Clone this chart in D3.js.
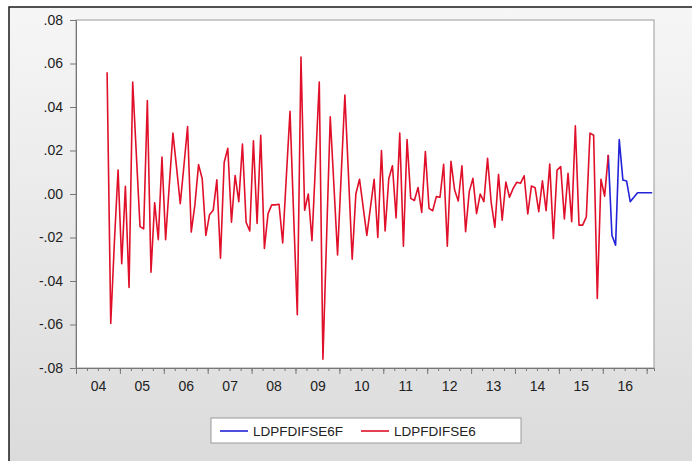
<html>
<head>
<meta charset="utf-8">
<style>
  body { margin: 0; background: #fff; }
  text { font-family: "Liberation Sans", Arial, sans-serif; }
</style>
</head>
<body>
<svg id="svg" width="692" height="461"></svg>
<script src="https://cdn.jsdelivr.net/npm/d3@7"></script>
<script>

// monthly observations, month index 0 = 2004M01
var firstYear = 2004;
var nMonths = 158;

var actualStart = 8;   // 2004M09
var actual = [
  0.056, -0.0595, -0.022, 0.011, -0.032, 0.0035, -0.043, 0.0515, 0.018, -0.015,
  -0.016, 0.043, -0.036, -0.004, -0.021, 0.017, -0.021, 0.004, 0.028, 0.012,
  -0.0045, 0.013, 0.031, -0.0175, -0.005, 0.0135, 0.007, -0.019, -0.0095, -0.0075,
  0.0065, -0.0295, 0.0145, 0.021, -0.013, 0.0085, -0.0035, 0.023, -0.013, -0.017,
  0.0245, -0.0135, 0.027, -0.025, -0.009, -0.005, -0.005, -0.0047, -0.0225, 0.008,
  0.038, -0.01, -0.0555, 0.063, -0.0075, 0.000, -0.0215, 0.015, 0.0515, -0.076,
  -0.02, 0.0355, 0.004, -0.028, 0.009, 0.0455, 0.008, -0.030, 0.000, 0.0068,
  -0.006, -0.019, -0.006, 0.0068, -0.020, 0.020, -0.017, 0.007, 0.013, -0.011,
  0.028, -0.024, 0.025, -0.002, -0.003, 0.003, -0.0085, 0.0195, -0.0066, -0.0077,
  -0.0012, -0.0015, 0.0136, -0.024, 0.015, 0.0018, -0.0032, 0.013, -0.0173, 0.0011,
  0.0072, -0.009, 0.000, -0.0035, 0.0164, -0.004, -0.0153, 0.009, -0.012, 0.0055,
  -0.0015, 0.0026, 0.0054, 0.0049, 0.0084, -0.0092, 0.0037, 0.0029, -0.0081, 0.0061,
  -0.0077, 0.0138, -0.0204, 0.011, 0.0126, -0.0115, 0.0095, -0.0127, 0.0313, -0.0143,
  -0.0143, -0.0105, 0.028, 0.027, -0.048, 0.0068, -0.001, 0.018
];

var forecastStart = 145;
var forecast = [
  0.018, -0.019, -0.0235, 0.025, 0.0064, 0.006, -0.0035, -0.0015, 0.0006, 0.0006,
  0.0006, 0.0006, 0.0006
];

var yTicks = [-0.08, -0.06, -0.04, -0.02, 0.00, 0.02, 0.04, 0.06, 0.08];
var yearLabels = ["04", "05", "06", "07", "08", "09", "10", "11", "12", "13", "14", "15", "16"];
var seriesNames = ["LDPFDIFSE6F", "LDPFDIFSE6"];
var seriesColors = ["#2323d8", "#e0102a"];

var svg = d3.select("#svg");

// background panel
var defs = svg.append("defs");
var grad = defs.append("linearGradient").attr("id", "bg")
  .attr("x1", 0).attr("y1", 0).attr("x2", 0).attr("y2", 1);
grad.append("stop").attr("offset", "0%").attr("stop-color", "#f6f6f6");
grad.append("stop").attr("offset", "100%").attr("stop-color", "#dadada");

svg.append("rect").attr("x", 0).attr("y", 0).attr("width", 692).attr("height", 461)
  .style("fill", "#fff");
svg.append("rect").attr("x", 9).attr("y", 7).attr("width", 700).attr("height", 470)
  .style("fill", "url(#bg)").style("stroke", "#1a1a1a").style("stroke-width", 1.5);

var L = 76, R = 654, T = 20, B = 368;

var x = d3.scaleLinear().domain([0, nMonths]).range([L, R]);
var y = d3.scaleLinear().domain([-0.08, 0.08]).range([B, T]);

svg.append("rect").attr("x", L).attr("y", T).attr("width", R - L).attr("height", B - T)
  .style("fill", "#fff").style("stroke", "#9a9a9a").style("stroke-width", 1);

// y axis, labels like ".08" and "-.02"
var fmt = v => d3.format(".2f")(v).replace("\u2212", "-").replace(/^(-?)0\./, "$1.");
svg.append("g").attr("transform", "translate(" + L + ",0)")
  .call(d3.axisLeft(y).tickValues(yTicks).tickFormat(fmt).tickSize(6).tickPadding(7))
  .call(g => g.selectAll("path, line").style("stroke", "#777"))
  .call(g => g.selectAll("text").style("font-size", "14px").style("fill", "#222")
    .style("font-family", "'Liberation Sans', Arial, sans-serif"));

// x axis: quarterly minor ticks, yearly major ticks, labels mid-year
var quarters = d3.range(0, nMonths + 1, 3);
var years = d3.range(0, nMonths + 1, 12);
svg.append("g").attr("transform", "translate(0," + B + ")")
  .call(d3.axisBottom(x).tickValues(quarters).tickFormat("").tickSize(3))
  .call(g => g.selectAll("path, line").style("stroke", "#777"));
svg.append("g").attr("transform", "translate(0," + B + ")")
  .call(d3.axisBottom(x).tickValues(years).tickFormat("").tickSize(6))
  .call(g => g.select("path").remove())
  .call(g => g.selectAll("line").style("stroke", "#777"));
svg.append("g").attr("transform", "translate(0," + B + ")")
  .call(d3.axisBottom(x).tickValues(yearLabels.map((d, i) => i * 12 + 6))
    .tickFormat((d, i) => yearLabels[i]).tickSize(0).tickPadding(13))
  .call(g => g.select("path").remove())
  .call(g => g.selectAll("text").style("font-size", "14px").style("fill", "#222")
    .style("font-family", "'Liberation Sans', Arial, sans-serif"));

// series
var line = d3.line().x(d => x(d.m + 0.5)).y(d => y(d.v));
var fData = forecast.map((v, i) => ({m: forecastStart + i, v: v}));
var aData = actual.map((v, i) => ({m: actualStart + i, v: v}));

svg.append("path").datum(fData).attr("d", line)
  .style("fill", "none").style("stroke", seriesColors[0]).style("stroke-width", 1.6)
  .style("stroke-linejoin", "round");
svg.append("path").datum(aData).attr("d", line)
  .style("fill", "none").style("stroke", seriesColors[1]).style("stroke-width", 1.6)
  .style("stroke-linejoin", "round");

// legend
var lg = svg.append("g");
lg.append("rect").attr("x", 211).attr("y", 418).attr("width", 310).attr("height", 25)
  .style("fill", "#fff").style("stroke", "#9a9a9a");
var items = lg.selectAll("g.it").data(seriesNames).join("g").classed("it", true)
  .attr("transform", (d, i) => "translate(" + [220, 361][i] + ",431)");
items.append("line").attr("x1", 0).attr("x2", 28).attr("y1", 0).attr("y2", 0)
  .style("stroke", (d, i) => seriesColors[i]).style("stroke-width", 1.6);
items.append("text").attr("x", 33).attr("dy", "0.35em").text(d => d)
  .style("font-size", "13.5px").style("fill", "#222");

</script>
</body>
</html>
